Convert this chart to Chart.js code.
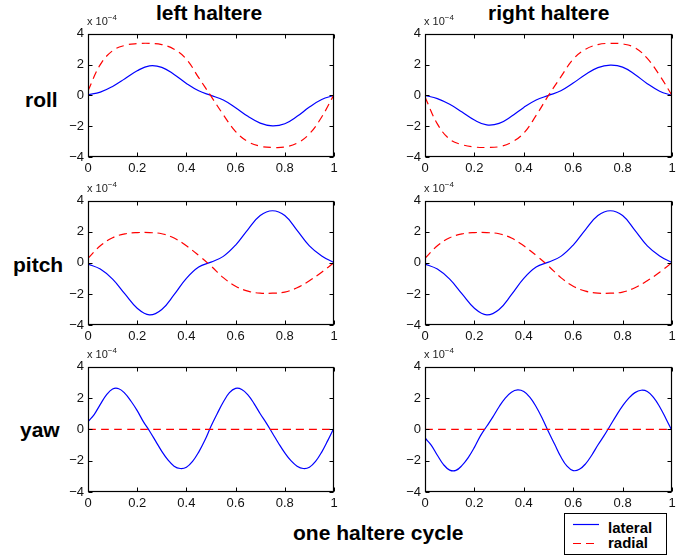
<!DOCTYPE html>
<html>
<head>
<meta charset="utf-8">
<script src="https://cdn.jsdelivr.net/npm/chart.js@4"></script>
<style>
  html, body { margin: 0; padding: 0; background: #fff; }
  #fig { position: relative; width: 690px; height: 556px; overflow: hidden; font-family: 'Liberation Sans', Arial, sans-serif; color: #000; }
  #fig canvas { position: absolute; }
  .lbl { position: absolute; font-weight: bold; font-size: 21px; line-height: 21px; white-space: nowrap; }
  .exp { position: absolute; font-size: 11px; line-height: 11px; white-space: nowrap; color: #222; }
  .exp span { font-size: 8px; position: relative; top: -5px; }
  #legend { position: absolute; left: 564px; top: 513px; width: 101px; height: 40px; border: 1px solid #000; background: #fff; }
  #legend .item { position: absolute; left: 43px; font-weight: bold; font-size: 15px; line-height: 15px; }
</style>
</head>
<body>
<div id="fig">
  <div class="lbl" style="left:156px; top:2px;">left haltere</div>
  <div class="lbl" style="left:488px; top:2px;">right haltere</div>
  <div class="lbl" style="left:25px; top:89px;">roll</div>
  <div class="lbl" style="left:13px; top:254px;">pitch</div>
  <div class="lbl" style="left:20px; top:419px;">yaw</div>
  <div class="lbl" style="left:293px; top:522px;">one haltere cycle</div>
  <div id="legend">
    <svg width="101" height="40" style="position:absolute;left:0;top:0">
      <line x1="8" y1="10.5" x2="34" y2="10.5" stroke="#0000ff" stroke-width="1.2"/>
      <line x1="8" y1="29.5" x2="34" y2="29.5" stroke="#ff0000" stroke-width="1.2" stroke-dasharray="8,5"/>
    </svg>
    <div class="item" style="top:6px;">lateral</div>
    <div class="item" style="top:21px;">radial</div>
  </div>
</div>
<script>
// phase of the haltere cycle
const cycle = [0, 0.05, 0.1, 0.15, 0.2, 0.25, 0.3, 0.35, 0.4, 0.45, 0.5,
  0.55, 0.6, 0.65, 0.7, 0.75, 0.8, 0.85, 0.9, 0.95, 1];
const cycleFine = [0, 0.025, 0.05, 0.075, 0.1, 0.125, 0.15, 0.175, 0.2, 0.225, 0.25,
  0.275, 0.3, 0.325, 0.35, 0.375, 0.4, 0.425, 0.45, 0.475, 0.5,
  0.525, 0.55, 0.575, 0.6, 0.625, 0.65, 0.675, 0.7, 0.725, 0.75,
  0.775, 0.8, 0.825, 0.85, 0.875, 0.9, 0.925, 0.95, 0.975, 1];

// values in units of 1e-4
const rollLateralLeft = [0.04, 0.21, 0.58, 1.08, 1.6, 1.92, 1.82, 1.36, 0.78, 0.3, 0.0,
  -0.3, -0.8, -1.36, -1.8, -1.98, -1.84, -1.36, -0.76, -0.27, 0.0];
const rollRadialLeft = [0.3, 2.0, 2.9, 3.25, 3.36, 3.38, 3.3, 3.0, 2.35, 1.15, -0.05,
  -1.25, -2.35, -3.0, -3.3, -3.38, -3.35, -3.1, -2.5, -1.4, 0.05];
const rollLateralRight = [0.0, -0.21, -0.58, -1.08, -1.6, -1.92, -1.82, -1.36, -0.78, -0.3, 0.0,
  0.3, 0.8, 1.36, 1.8, 1.96, 1.84, 1.36, 0.76, 0.27, 0.0];
const rollRadialRight = [-0.1, -1.85, -2.85, -3.2, -3.35, -3.38, -3.33, -3.05, -2.45, -1.3, 0.0,
  1.2, 2.35, 3.0, 3.3, 3.38, 3.34, 3.1, 2.4, 1.3, 0.0];

const pitchLateral = [-0.08, -0.4, -1.05, -2.0, -2.92, -3.35, -3.0, -2.05, -1.0, -0.27, 0.05,
  0.42, 1.15, 2.15, 3.05, 3.36, 3.05, 2.1, 1.1, 0.45, 0.02];
const pitchRadial = [0.3, 1.1, 1.62, 1.87, 1.95, 1.95, 1.88, 1.6, 1.1, 0.48, -0.2,
  -0.95, -1.5, -1.82, -1.95, -1.95, -1.88, -1.6, -1.15, -0.6, 0.02];

const yawLateralLeft = [0.5, 0.95, 1.6, 2.2, 2.58, 2.6, 2.3, 1.8, 1.2, 0.5, -0.1,
  -0.75, -1.4, -1.95, -2.35, -2.5, -2.42, -2.05, -1.45, -0.7, 0.2,
  1.0, 1.75, 2.35, 2.62, 2.55, 2.2, 1.65, 1.0, 0.4, -0.25,
  -0.9, -1.5, -2.0, -2.35, -2.5, -2.42, -2.05, -1.45, -0.7, 0.1];
const yawLateralRight = [-0.55, -1.0, -1.65, -2.25, -2.6, -2.62, -2.3, -1.8, -1.15, -0.4, 0.2,
  0.8, 1.45, 2.0, 2.38, 2.52, 2.42, 2.05, 1.45, 0.7, -0.15,
  -0.95, -1.75, -2.35, -2.63, -2.55, -2.2, -1.65, -1.0, -0.4, 0.25,
  0.9, 1.5, 2.0, 2.35, 2.5, 2.42, 2.05, 1.45, 0.7, -0.1];
const yawRadial = [0, 0, 0, 0, 0, 0, 0, 0, 0, 0, 0, 0, 0, 0, 0, 0, 0, 0, 0, 0, 0];

const xTicks = [0, 0.2, 0.4, 0.6, 0.8, 1];
const yTicks = [-4, -2, 0, 2, 4];

const BLUE = '#0000ff', RED = '#ff0000';
const FONT = "'Liberation Sans', Arial, sans-serif";
const AX_W = 34, PAD_T = 10, PAD_R = 10, AX_H = 22;

const cols = [{ left: 88, width: 246 }, { left: 425, width: 247 }];
const rows = [{ top: 32, height: 125 }, { top: 199, height: 126 }, { top: 365, height: 127 }];

const panels = [
  { r: 0, c: 0, lat: [cycle, rollLateralLeft], rad: [cycle, rollRadialLeft] },
  { r: 0, c: 1, lat: [cycle, rollLateralRight], rad: [cycle, rollRadialRight] },
  { r: 1, c: 0, lat: [cycle, pitchLateral], rad: [cycle, pitchRadial] },
  { r: 1, c: 1, lat: [cycle, pitchLateral], rad: [cycle, pitchRadial] },
  { r: 2, c: 0, lat: [cycleFine, yawLateralLeft], rad: [cycle, yawRadial] },
  { r: 2, c: 1, lat: [cycleFine, yawLateralRight], rad: [cycle, yawRadial] }
];

// MATLAB-like box with inward ticks on all four sides
const boxPlugin = {
  id: 'matlabBox',
  afterDatasetsDraw(chart) {
    const { ctx, chartArea: a, scales } = chart;
    const L = Math.round(a.left) + 0.5, R = Math.round(a.right) - 0.5;
    const T = Math.round(a.top) + 0.5, B = Math.round(a.bottom) - 0.5;
    ctx.save();
    ctx.strokeStyle = '#000';
    ctx.lineWidth = 1.2;
    ctx.strokeRect(L, T, R - L, B - T);
    ctx.lineWidth = 1;
    ctx.beginPath();
    scales.x.ticks.forEach(t => {
      const px = Math.round(scales.x.getPixelForValue(t.value)) + 0.5;
      ctx.moveTo(px, B); ctx.lineTo(px, B - 4);
      ctx.moveTo(px, T); ctx.lineTo(px, T + 4);
    });
    scales.y.ticks.forEach(t => {
      const py = Math.round(scales.y.getPixelForValue(t.value)) + 0.5;
      ctx.moveTo(L, py); ctx.lineTo(L + 4, py);
      ctx.moveTo(R, py); ctx.lineTo(R - 4, py);
    });
    ctx.stroke();
    ctx.restore();
  }
};

function series(xs, ys) { return xs.map((x, i) => ({ x, y: ys[i] })); }

const fig = document.getElementById('fig');
panels.forEach(p => {
  const col = cols[p.c], row = rows[p.r];
  const cv = document.createElement('canvas');
  cv.width = AX_W + col.width + PAD_R;
  cv.height = PAD_T + row.height + AX_H;
  cv.style.left = (col.left - AX_W) + 'px';
  cv.style.top = (row.top - PAD_T) + 'px';
  fig.appendChild(cv);

  const exp = document.createElement('div');
  exp.className = 'exp';
  exp.style.left = (col.left - 1) + 'px';
  exp.style.top = (row.top - 16) + 'px';
  exp.innerHTML = 'x 10<span>\u22124</span>';
  fig.appendChild(exp);

  new Chart(cv, {
    type: 'line',
    data: {
      datasets: [
        { label: 'radial', data: series(...p.rad), borderColor: RED, borderDash: [8, 5] },
        { label: 'lateral', data: series(...p.lat), borderColor: BLUE }
      ]
    },
    options: {
      responsive: false,
      animation: false,
      events: [],
      layout: { padding: { top: PAD_T, right: PAD_R, left: 0, bottom: 0 } },
      plugins: { legend: { display: false }, tooltip: { enabled: false } },
      elements: {
        point: { radius: 0 },
        line: { borderWidth: 1.2, tension: 0.4, fill: false }
      },
      scales: {
        x: {
          type: 'linear', min: 0, max: 1,
          afterBuildTicks: s => { s.ticks = xTicks.map(v => ({ value: v })); },
          afterFit: s => { s.height = AX_H; },
          grid: { display: false, drawTicks: false },
          border: { display: false },
          ticks: {
            color: '#111', padding: 4, maxRotation: 0, autoSkip: false,
            font: { family: FONT, size: 13 },
            callback: v => (v === 0 ? '0' : v === 1 ? '1' : v.toFixed(1))
          }
        },
        y: {
          type: 'linear', min: -4, max: 4,
          afterBuildTicks: s => { s.ticks = yTicks.map(v => ({ value: v })); },
          afterFit: s => { s.width = AX_W; },
          grid: { display: false, drawTicks: false },
          border: { display: false },
          ticks: {
            color: '#111', padding: 4, autoSkip: false,
            font: { family: FONT, size: 13 },
            callback: v => (v < 0 ? '\u2212' + (-v) : String(v))
          }
        }
      }
    },
    plugins: [boxPlugin]
  });
});
</script>
</body>
</html>
